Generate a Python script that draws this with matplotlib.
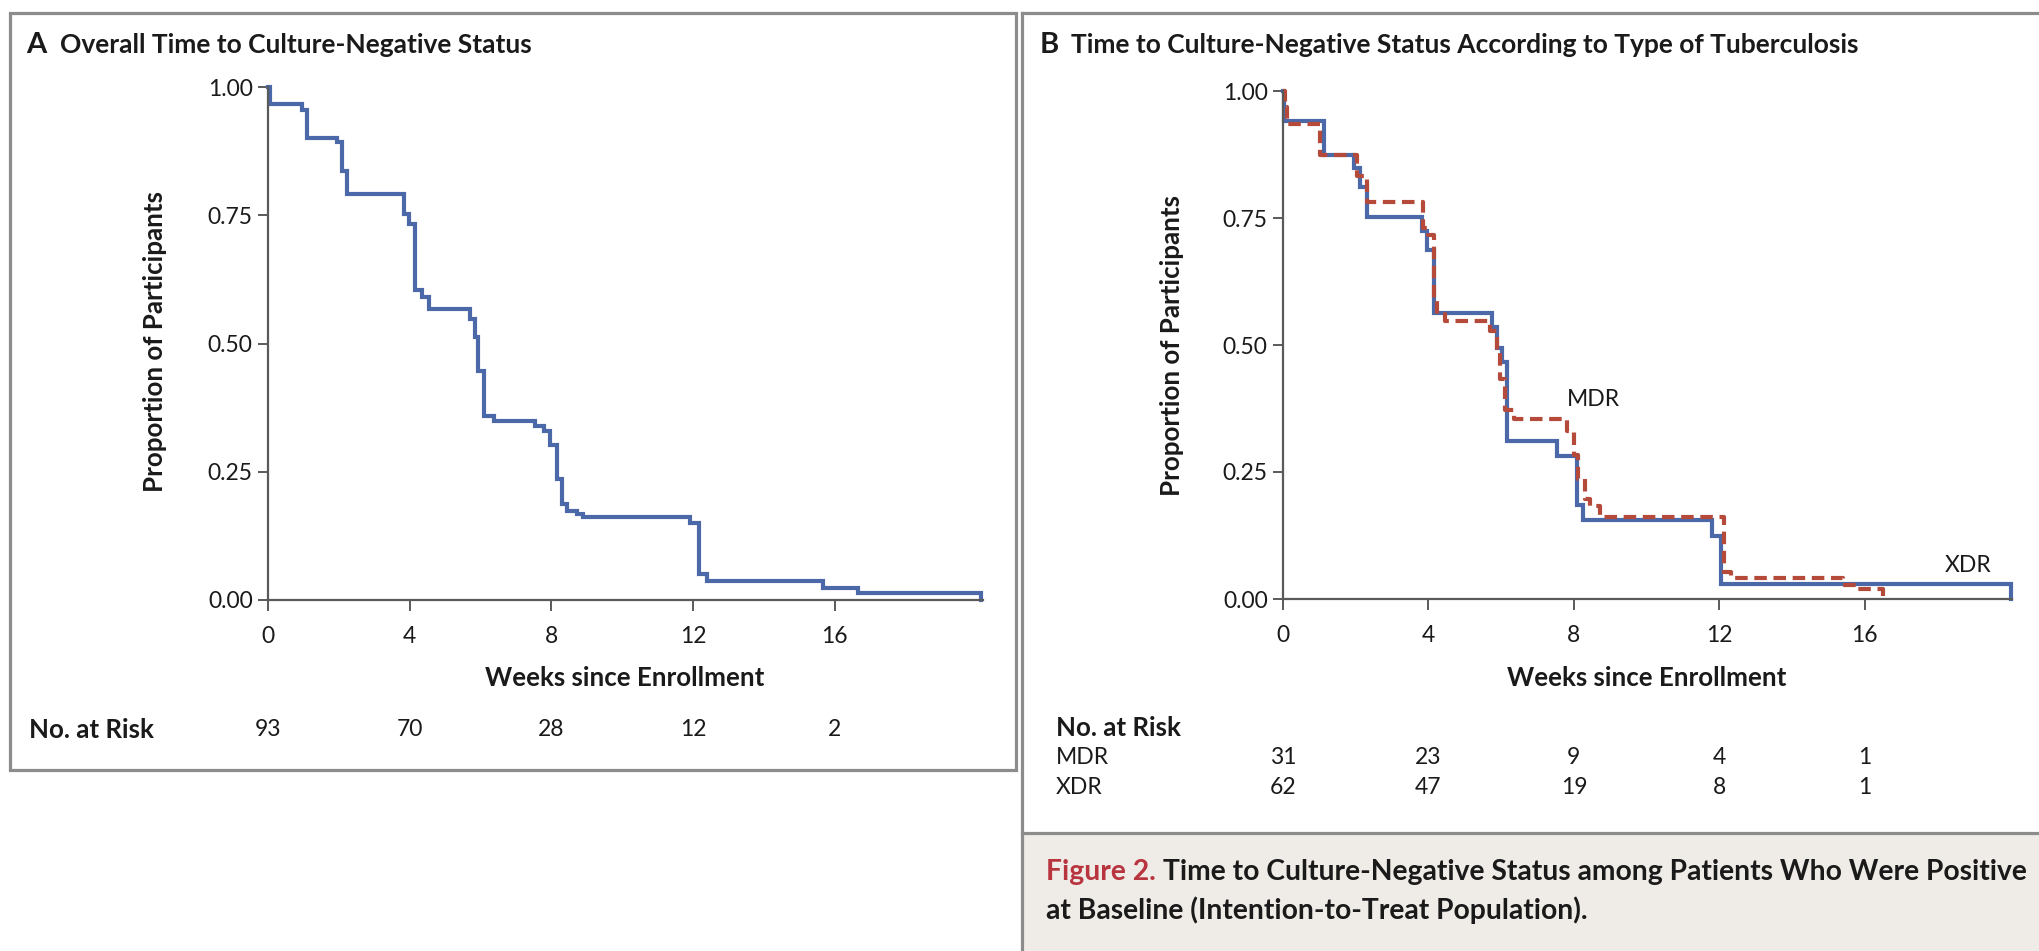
import matplotlib
matplotlib.use("Agg")
import matplotlib.pyplot as plt
from matplotlib.lines import Line2D
from matplotlib.patches import Rectangle

plt.rcParams['font.family'] = ['Lato', 'DejaVu Sans']

# ---- Panel A: overall Kaplan-Meier curve (weeks, proportion still culture-positive)
overall_weeks = [0, 0.07, 0.96, 1.10, 1.95, 2.09, 2.23, 3.83, 3.97, 4.14, 4.34, 4.53,
                 5.71, 5.85, 5.94, 6.10, 6.37, 7.54, 7.78, 7.96, 8.15, 8.29, 8.43,
                 8.72, 8.90, 11.91, 12.17, 12.38, 15.67, 16.66, 20.12]
overall_prop = [1.0, 0.966, 0.956, 0.900, 0.893, 0.836, 0.792, 0.752, 0.732, 0.604,
                0.590, 0.567, 0.547, 0.513, 0.446, 0.359, 0.349, 0.339, 0.329, 0.302,
                0.235, 0.188, 0.174, 0.168, 0.162, 0.151, 0.050, 0.037, 0.023, 0.013, 0.0]

# ---- Panel B: by type of tuberculosis
xdr_weeks = [0, 0.04, 1.12, 1.94, 2.12, 2.31, 3.82, 3.96, 4.14, 5.74, 5.88, 6.02, 6.15,
             7.53, 8.08, 8.26, 11.79, 12.06, 20.02]
xdr_prop = [1.0, 0.940, 0.874, 0.849, 0.812, 0.751, 0.724, 0.687, 0.563, 0.535, 0.494,
            0.467, 0.311, 0.281, 0.186, 0.156, 0.125, 0.030, 0.0]

mdr_weeks = [0, 0.05, 0.12, 1.03, 2.03, 2.31, 3.85, 4.00, 4.14, 4.23, 4.46, 5.70, 5.88,
             5.97, 6.11, 6.34, 7.80, 7.99, 8.12, 8.31, 8.44, 8.72, 12.12, 12.33, 15.40,
             15.77, 16.50]
mdr_prop = [1.0, 0.968, 0.935, 0.874, 0.832, 0.781, 0.731, 0.717, 0.589, 0.562, 0.548,
            0.528, 0.487, 0.433, 0.372, 0.355, 0.331, 0.284, 0.237, 0.196, 0.183, 0.162,
            0.054, 0.041, 0.027, 0.020, 0.0]

week_ticks = [0, 4, 8, 12, 16]
prop_ticks = [0.0, 0.25, 0.50, 0.75, 1.00]
prop_tick_labels = ["0.00", "0.25", "0.50", "0.75", "1.00"]

risk_overall = [93, 70, 28, 12, 2]
risk_mdr = [31, 23, 9, 4, 1]
risk_xdr = [62, 47, 19, 8, 1]

BLUE = "#4b69a9"
RED = "#b5493a"
AXIS = "#5a5a5a"
FRAME = "#8c8c8c"
TEXT = "#1a1a1a"

W, H = 2040, 951
fig = plt.figure(figsize=(W / 100, H / 100), dpi=100)
fig.patch.set_facecolor("white")

TITLE_SIZE = 19
LABEL_SIZE = 18.6
TICK_SIZE = 16.5
CAPTION_SIZE = 20.3


def fx(px):
    return px / W


def fy(py):
    return (H - py) / H


def style_axes(ax, xmax):
    ax.set_xlim(0, xmax)
    ax.set_ylim(0, 1.0)
    for s in ("top", "right"):
        ax.spines[s].set_visible(False)
    for s in ("left", "bottom"):
        ax.spines[s].set_color(AXIS)
        ax.spines[s].set_linewidth(1.6)
    ax.set_xticks(week_ticks)
    ax.set_xticklabels([str(w) for w in week_ticks])
    ax.set_yticks(prop_ticks)
    ax.set_yticklabels(prop_tick_labels)
    ax.tick_params(axis="x", length=8, width=1.4, color=AXIS, pad=10.5,
                   labelsize=TICK_SIZE, labelcolor=TEXT)
    ax.tick_params(axis="y", length=7, width=1.4, color=AXIS, pad=4,
                   labelsize=TICK_SIZE, labelcolor=TEXT)
    ax.patch.set_alpha(0)


# ---- frames
frame_kw = dict(color=FRAME, linewidth=2.3, transform=fig.transFigure, zorder=0)
# panel A box
fig.add_artist(Rectangle((fx(10), fy(770)), fx(1016) - fx(10), fy(13) - fy(770),
                         fill=False, edgecolor=FRAME, linewidth=2.3,
                         transform=fig.transFigure, zorder=0))
# caption box of panel B
fig.add_artist(Rectangle((fx(1022), 0), 1 - fx(1022), fy(833),
                         facecolor="#efebe6", edgecolor="none",
                         transform=fig.transFigure, zorder=0))
fig.add_artist(Line2D([fx(1022), fx(1022)], [0, fy(13)], **frame_kw))
fig.add_artist(Line2D([fx(1022), 1], [fy(13), fy(13)], **frame_kw))
fig.add_artist(Line2D([fx(1022), 1], [fy(833), fy(833)], **frame_kw))

# ---- Panel A axes
axA = fig.add_axes([fx(268), fy(600), fx(983) - fx(268), fy(87) - fy(600)])
style_axes(axA, 20.18)
axA.step(overall_weeks, overall_prop, where="post", color=BLUE, lw=3.0,
         solid_joinstyle="miter", clip_on=False)

fig.text(fx(26), fy(53), "A", fontsize=21, fontweight="bold", color=TEXT, va="baseline")
fig.text(fx(60), fy(53), "Overall Time to Culture-Negative Status", fontsize=TITLE_SIZE,
         fontweight="bold", color=TEXT, va="baseline")
fig.text(fx(155), fy(342), "Proportion of Participants", rotation=90, fontsize=LABEL_SIZE,
         fontweight="bold", color=TEXT, ha="center", va="center")
fig.text(fx(625), fy(678), "Weeks since Enrollment", fontsize=LABEL_SIZE,
         fontweight="bold", color=TEXT, ha="center", va="center")
fig.text(fx(29), fy(730), "No. at Risk", fontsize=LABEL_SIZE, fontweight="bold",
         color=TEXT, ha="left", va="center")
for w, n in zip(week_ticks, risk_overall):
    axA.annotate(str(n), xy=(w, 0), xycoords=("data", "axes fraction"),
                 xytext=(0, -(730 - 600) * 0.72), textcoords="offset points",
                 ha="center", va="center", fontsize=TICK_SIZE, color=TEXT,
                 annotation_clip=False)

# ---- Panel B axes
axB = fig.add_axes([fx(1283), fy(599), fx(2012) - fx(1283), fy(91) - fy(599)])
style_axes(axB, 20.05)
axB.step(xdr_weeks, xdr_prop, where="post", color=BLUE, lw=3.0,
         solid_joinstyle="miter", clip_on=False)
axB.step(mdr_weeks, mdr_prop, where="post", color=RED, lw=3.0,
         linestyle=(0, (3.0, 1.6)), clip_on=False)
axB.text(7.82, 0.392, "MDR", fontsize=TICK_SIZE, color=TEXT, ha="left", va="center")
axB.text(19.5, 0.066, "XDR", fontsize=TICK_SIZE, color=TEXT, ha="right", va="center")

fig.text(fx(1040), fy(53), "B", fontsize=21, fontweight="bold", color=TEXT, va="baseline")
fig.text(fx(1071), fy(53),
         "Time to Culture-Negative Status According to Type of Tuberculosis",
         fontsize=TITLE_SIZE, fontweight="bold", color=TEXT, va="baseline")
fig.text(fx(1172), fy(345), "Proportion of Participants", rotation=90,
         fontsize=LABEL_SIZE, fontweight="bold", color=TEXT, ha="center", va="center")
fig.text(fx(1647), fy(678), "Weeks since Enrollment", fontsize=LABEL_SIZE,
         fontweight="bold", color=TEXT, ha="center", va="center")
fig.text(fx(1056), fy(728), "No. at Risk", fontsize=LABEL_SIZE, fontweight="bold",
         color=TEXT, ha="left", va="center")
fig.text(fx(1056), fy(758), "MDR", fontsize=TICK_SIZE, color=TEXT, ha="left", va="center")
fig.text(fx(1056), fy(788), "XDR", fontsize=TICK_SIZE, color=TEXT, ha="left", va="center")
for row_y, counts in ((758, risk_mdr), (788, risk_xdr)):
    for w, n in zip(week_ticks, counts):
        axB.annotate(str(n), xy=(w, 0), xycoords=("data", "axes fraction"),
                     xytext=(0, -(row_y - 599) * 0.72), textcoords="offset points",
                     ha="center", va="center", fontsize=TICK_SIZE, color=TEXT,
                     annotation_clip=False)

# ---- caption
fig.canvas.draw()
renderer = fig.canvas.get_renderer()
t1 = fig.text(fx(1046), fy(872), "Figure 2.", fontsize=CAPTION_SIZE, fontweight="bold",
              color="#b8343f", ha="left", va="center")
bb = t1.get_window_extent(renderer=renderer)
fig.text((bb.x1 + 7) / W, fy(872),
         "Time to Culture-Negative Status among Patients Who Were Positive",
         fontsize=CAPTION_SIZE, fontweight="bold", color=TEXT, ha="left", va="center")
fig.text(fx(1046), fy(910), "at Baseline (Intention-to-Treat Population).",
         fontsize=CAPTION_SIZE, fontweight="bold", color=TEXT, ha="left", va="center")

fig.savefig("out.png", dpi=100, facecolor="white")
